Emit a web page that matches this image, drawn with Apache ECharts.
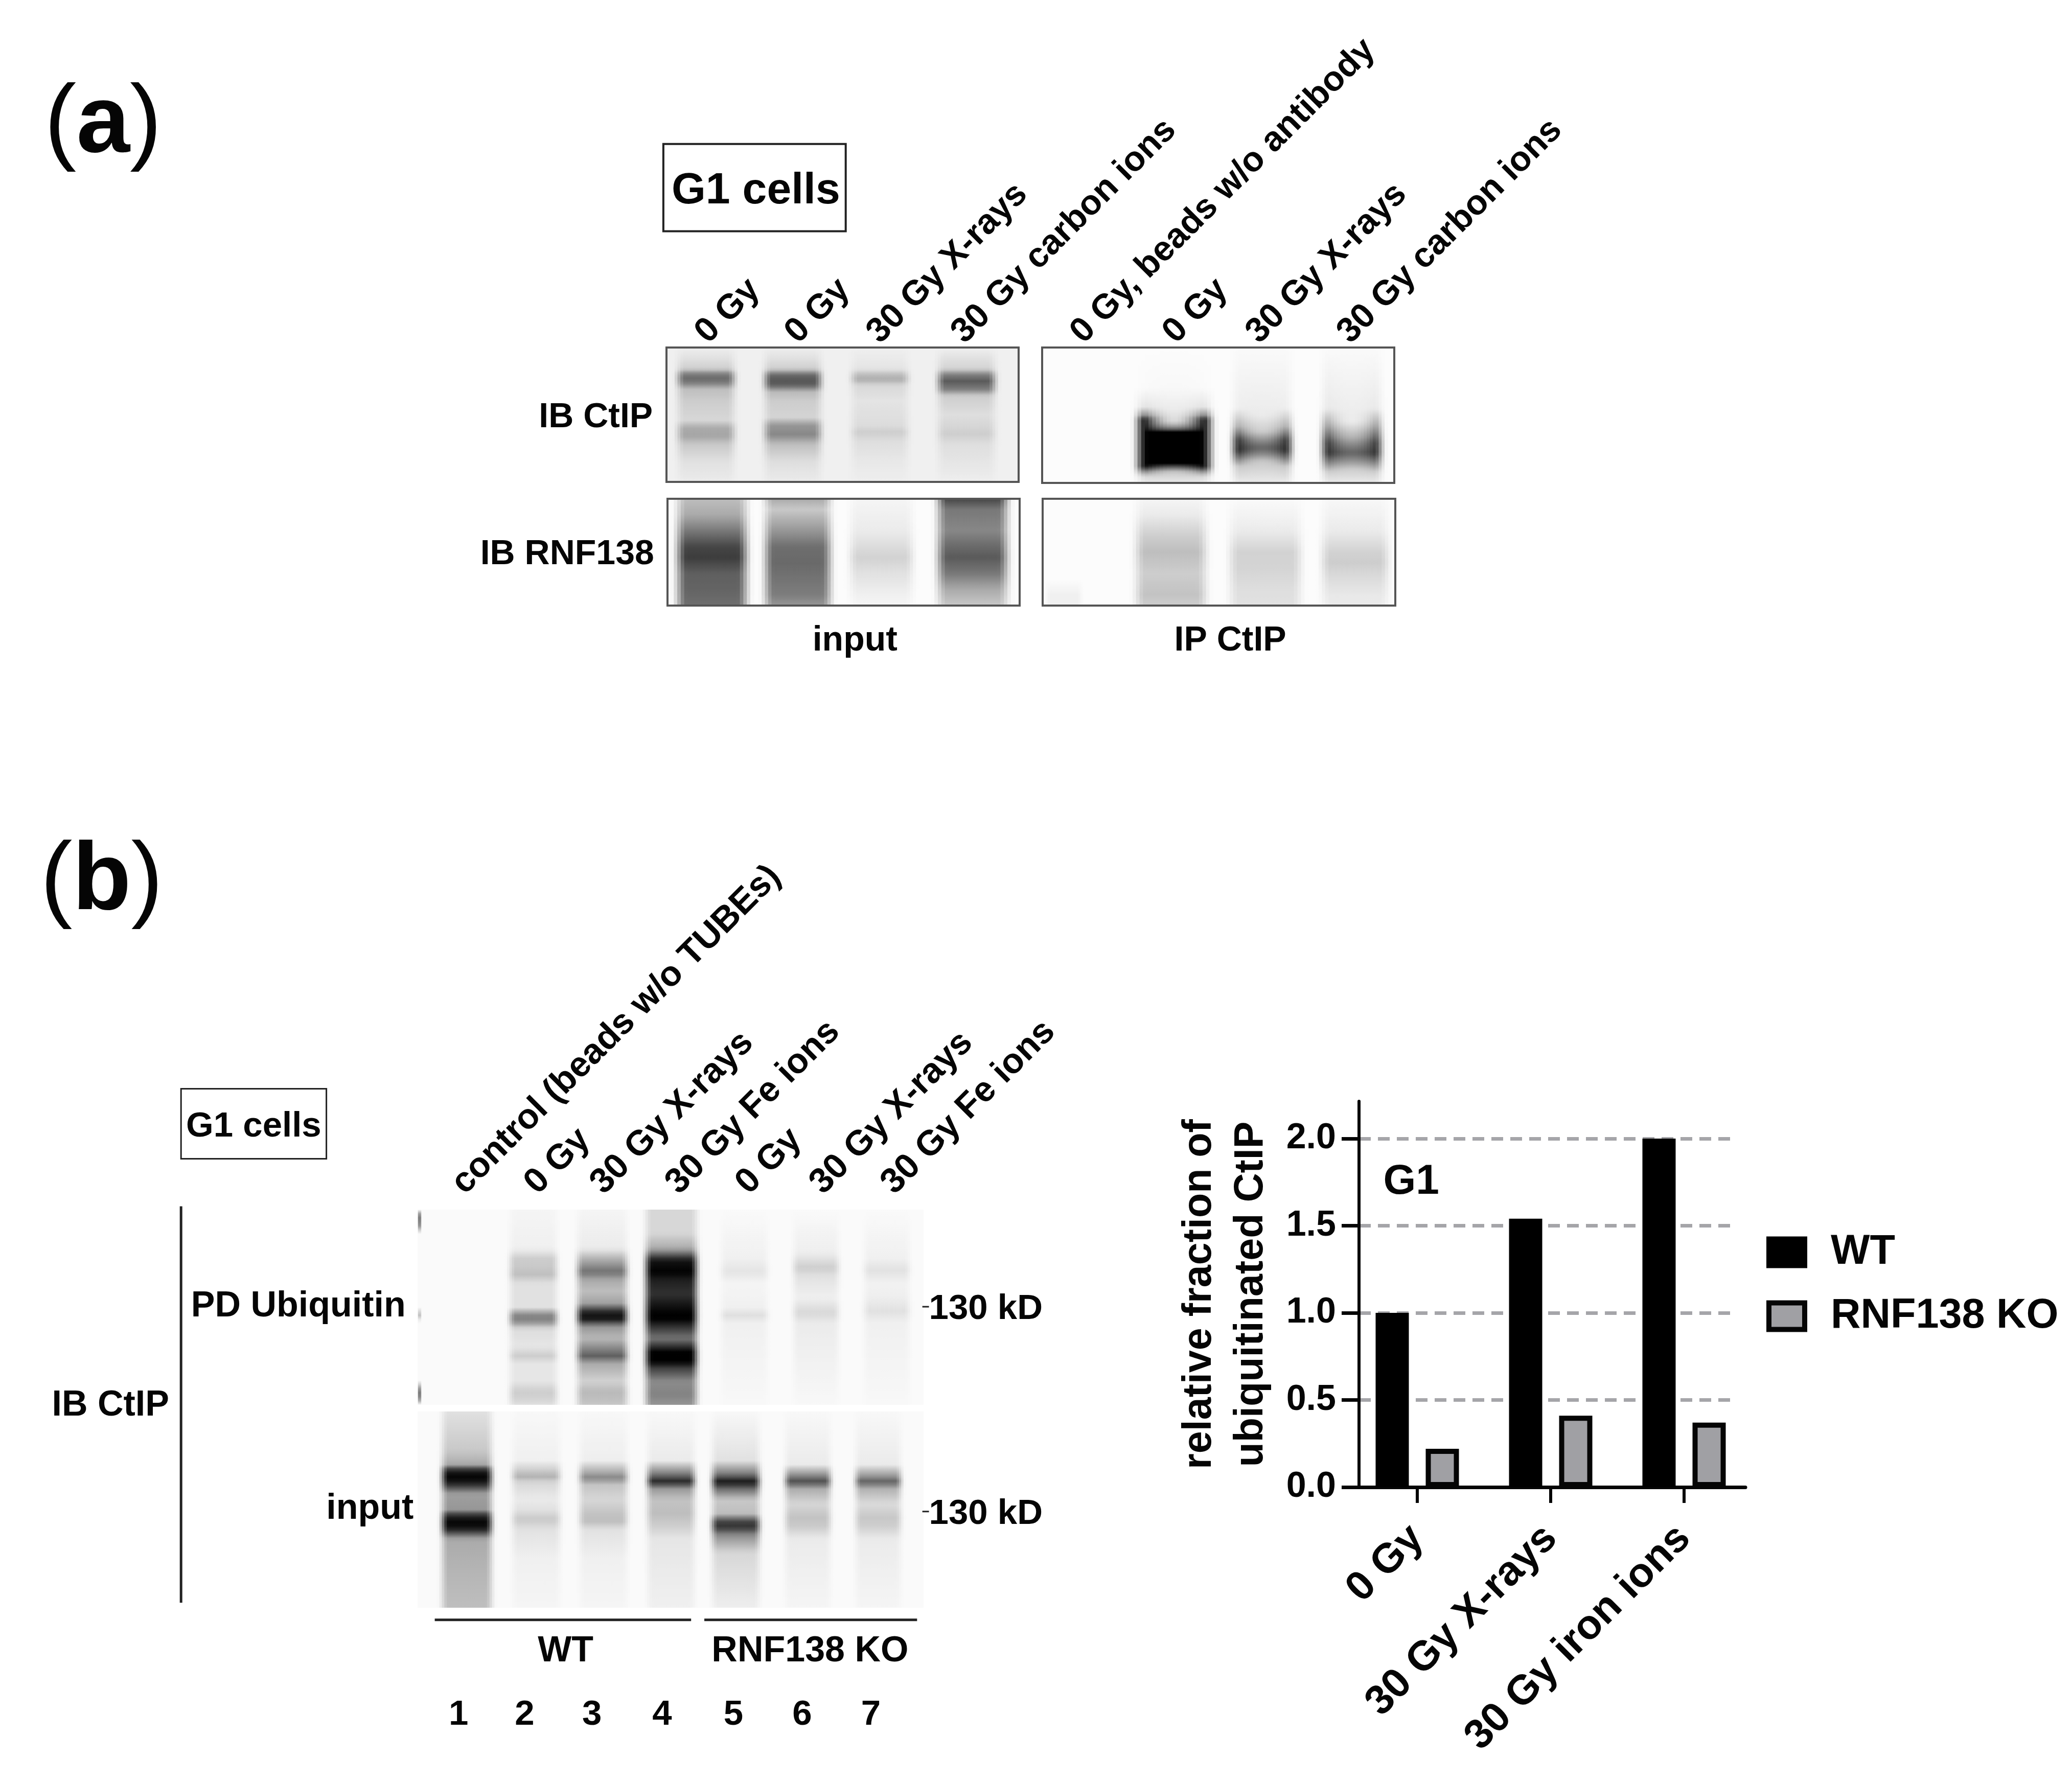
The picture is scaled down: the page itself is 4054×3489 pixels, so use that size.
<!DOCTYPE html>
<html><head><meta charset="utf-8">
<script src="https://cdn.jsdelivr.net/npm/echarts@6/dist/echarts.min.js"></script>
<style>html,body{margin:0;padding:0;background:#fff}#c{width:4054px;height:3489px}</style></head>
<body><div id="c"></div>
<script>
// ---------- bar chart data ----------
const barCategories = ['0 Gy', '30 Gy X-rays', '30 Gy iron ions'];
const wtValues = [1.0, 1.54, 2.0];
const koValues = [0.22, 0.41, 0.37];
const seriesNames = ['WT', 'RNF138 KO'];
const yTickValues = [0, 0.5, 1, 1.5, 2];
const yAxisMax = 2.214;

// ---------- blot lane data: [x0, x1, centre profile, edge profile] ; profile = [position, gray level] ----------
const laneInputCtip = [
 [.015,.21,[[0,238],[.08,225],[.16,205],[.19,140],[.22,105],[.26,120],[.31,190],[.4,205],[.54,215],[.6,170],[.66,165],[.72,200],[.85,225],[1,235]]],
 [.262,.456,[[0,238],[.08,225],[.16,205],[.2,110],[.24,85],[.28,95],[.33,185],[.4,205],[.52,212],[.58,150],[.65,135],[.72,190],[.85,222],[1,235]]],
 [.509,.703,[[0,240],[.16,228],[.2,190],[.24,172],[.28,215],[.4,228],[.58,220],[.63,205],[.7,222],[.85,232],[1,238]]],
 [.754,.95,[[0,240],[.16,210],[.2,130],[.25,90],[.31,125],[.36,205],[.5,222],[.6,212],[.64,205],[.72,222],[1,238]]]
];
const laneIpCtip = [
 [.25,.5,[[0,252],[.3,248],[.46,235],[.55,215],[.6,120],[.62,0],[.86,0],[.88,90],[.92,200],[1,235]],[[0,252],[.3,250],[.44,225],[.5,120],[.53,0],[.88,0],[.91,110],[.95,215],[1,235]]],
 [.524,.726,[[0,250],[.5,235],[.62,205],[.7,130],[.74,100],[.78,130],[.84,200],[1,235]],[[0,250],[.45,238],[.58,170],[.68,45],[.76,30],[.82,110],[.88,200],[1,235]]],
 [.778,.981,[[0,250],[.55,235],[.66,180],[.74,120],[.78,100],[.83,140],[.9,205],[1,235]],[[0,250],[.45,232],[.58,150],[.7,50],[.78,40],[.84,110],[.92,205],[1,235]]]
];
const laneInputRnf = [
 [.008,.245,[[0,190],[.15,170],[.3,120],[.45,70],[.55,60],[.7,95],[.85,100],[1,110]]],
 [.258,.482,[[0,170],[.1,200],[.3,150],[.45,110],[.6,105],[.75,115],[.9,125],[1,150]]],
 [.5,.715,[[0,245],[.3,235],[.45,220],[.55,210],[.7,225],[.9,240],[1,245]]],
 [.748,.985,[[0,70],[.1,120],[.3,135],[.45,105],[.55,90],[.7,120],[.85,170],[1,200]]]
];
const laneIpRnf = [
 [0,.12,[[0,252],[.75,252],[.9,240],[1,240]]],
 [.245,.483,[[0,245],[.15,235],[.35,205],[.5,190],[.7,205],[.9,195],[1,205]]],
 [.51,.753,[[0,250],[.3,235],[.5,210],[.65,212],[.85,222],[1,225]]],
 [.773,.999,[[0,248],[.3,235],[.5,210],[.6,205],[.75,220],[.9,232],[1,235]]]
];
const lanePdUb = [
 [0,.008,[[0,250],[.03,120],[.08,140],[.12,250],[.5,250],[.54,190],[.57,250],[.88,250],[.93,120],[.97,140],[1,250]]],
 [.172,.286,[[0,245],[.2,240],[.25,205],[.3,200],[.33,190],[.38,225],[.5,225],[.54,135],[.57,130],[.61,220],[.7,230],[.75,205],[.79,230],[.88,230],[.93,205],[.97,210],[1,225]]],
 [.305,.425,[[0,245],[.2,235],[.25,180],[.32,110],[.36,170],[.42,190],[.48,160],[.53,20],[.56,20],[.6,150],[.66,185],[.75,95],[.79,170],[.88,210],[.93,185],[.97,190],[1,200]]],
 [.44,.563,[[0,215],[.12,215],[.2,170],[.26,20],[.32,0],[.36,30],[.43,50],[.49,20],[.53,0],[.56,0],[.6,50],[.66,120],[.7,50],[.73,0],[.78,0],[.81,60],[.88,140],[.95,130],[1,150]]],
 [.59,.702,[[0,250],[.25,240],[.32,228],[.38,245],[.5,240],[.54,222],[.58,240],[1,248]]],
 [.733,.842,[[0,250],[.22,238],[.3,205],[.34,225],[.45,240],[.53,215],[.58,235],[1,248]]],
 [.873,.982,[[0,250],[.25,240],[.31,225],[.38,242],[.45,238],[.52,225],[.58,240],[1,248]]]
];
const laneInputB = [
 [.038,.157,[[0,225],[.2,200],[.27,170],[.3,30],[.34,0],[.37,40],[.42,160],[.5,150],[.53,40],[.57,0],[.6,30],[.65,170],[.8,180],[1,190]]],
 [.177,.292,[[0,248],[.25,240],[.3,205],[.33,175],[.36,215],[.45,235],[.5,225],[.55,200],[.6,225],[.75,240],[1,245]]],
 [.31,.425,[[0,248],[.25,238],[.31,170],[.34,130],[.37,195],[.45,215],[.52,195],[.56,190],[.6,225],[.75,240],[1,245]]],
 [.444,.558,[[0,248],[.25,235],[.32,120],[.36,30],[.39,150],[.45,195],[.52,190],[.58,205],[.65,230],[1,240]]],
 [.572,.686,[[0,248],[.25,225],[.32,120],[.36,15],[.39,100],[.45,200],[.52,190],[.56,70],[.59,50],[.63,140],[.72,215],[1,238]]],
 [.717,.826,[[0,248],[.27,235],[.32,150],[.36,70],[.39,170],[.47,215],[.54,195],[.58,200],[.65,235],[1,245]]],
 [.856,.965,[[0,248],[.27,235],[.33,150],[.36,90],[.39,175],[.47,220],[.54,200],[.58,205],[.65,235],[1,245]]]
];

// ---------- text ----------
const labelsA = ['0 Gy','0 Gy','30 Gy X-rays','30 Gy carbon ions','0 Gy, beads w/o antibody','0 Gy','30 Gy X-rays','30 Gy carbon ions'];
const labelsB = ['control (beads w/o TUBEs)','0 Gy','30 Gy X-rays','30 Gy Fe ions','0 Gy','30 Gy X-rays','30 Gy Fe ions'];
const laneNumbers = ['1','2','3','4','5','6','7'];

// ---------- layout (pixels) ----------
const S = 4054 / 1568;
const panels = [
 {lanes: laneInputCtip, x: 1304, y: 680, w: 689, h: 263, bg: 240, frame: true},
 {lanes: laneIpCtip,    x: 2039, y: 680, w: 689, h: 265, bg: 252, frame: true},
 {lanes: laneInputRnf,  x: 1306, y: 976, w: 689, h: 209, bg: 252, frame: true},
 {lanes: laneIpRnf,     x: 2040, y: 976, w: 690, h: 209, bg: 252, frame: true},
 {lanes: lanePdUb,      x: 817,  y: 2367, w: 990, h: 382, bg: 250},
 {lanes: laneInputB,    x: 817,  y: 2762, w: 990, h: 384, bg: 250}
];
const labelAnchorsA = [[540,265],[608,265],[670,265],[734,265],[824,265],[894,265],[957,265],[1026,265]];
const labelAnchorsB = [[356,909],[411,909],[461,909],[518,909],[571,909],[627,909],[681,909]];
const numberXs = [347,397,448,501,555,607,659];
const font = '"Liberation Sans", Arial, sans-serif';
const ink = '#050505';

const SLICES = 24, SAMPLES = 48;
function level(profile, p) {
  for (let i = 1; i < profile.length; i++) {
    if (p <= profile[i][0]) {
      const a = profile[i-1], b = profile[i];
      return a[1] + (b[1]-a[1]) * (p-a[0]) / ((b[0]-a[0]) || 1);
    }
  }
  return profile[profile.length-1][1];
}
function laneRender(panel) {
  return function (params, api) {
    const lane = panel.lanes[params.dataIndex];
    const centre = lane[2], edge = lane[3] || lane[2];
    const top = api.coord([0, 0])[1], bottom = api.coord([0, 1])[1];
    const children = [];
    for (let s = 0; s < SLICES; s++) {
      const u = (s + .5) / SLICES, t = Math.abs(2*u - 1);
      const x0 = api.coord([lane[0] + (lane[1]-lane[0]) * s / SLICES, 0])[0];
      const x1 = api.coord([lane[0] + (lane[1]-lane[0]) * (s+1) / SLICES, 0])[0];
      const w = Math.min(1, (t/.72) * (t/.72));
      let fade = t > .6 ? Math.min(1, (t-.6)/.4) : 0;
      fade = fade * fade * (3 - 2*fade);
      const stops = [];
      for (let k = 0; k <= SAMPLES; k++) {
        const p = k / SAMPLES;
        let g = level(centre, p) * (1-w) + level(edge, p) * w;
        g = g * (1-fade) + panel.bg * fade;
        g = Math.round(g);
        stops.push({offset: p, color: `rgb(${g},${g},${g})`});
      }
      children.push({type: 'rect', shape: {x: x0, y: top, width: x1-x0+1, height: bottom-top},
        style: {fill: new echarts.graphic.LinearGradient(0,0,0,1,stops)}});
    }
    return {type: 'group', children};
  };
}

const grids = [], xAxes = [], yAxes = [], series = [];
panels.forEach((p, i) => {
  const g = p.bg;
  grids.push({left: p.x, top: p.y, width: p.w, height: p.h, show: true, borderWidth: 0, backgroundColor: `rgb(${g},${g},${g})`});
  xAxes.push({type: 'value', gridIndex: i, min: 0, max: 1, show: false});
  yAxes.push({type: 'value', gridIndex: i, min: 0, max: 1, inverse: true, show: false});
  series.push({type: 'custom', xAxisIndex: i, yAxisIndex: i, silent: true, clip: true, animation: false,
    renderItem: laneRender(p), data: p.lanes.map(l => [l[0], 0])});
});

// bar grid (category spacing from the ticks), axis grid, dash grid
const bi = panels.length;
const plotTop = 2155, plotBottomPx = 3489 - 2910;
grids.push({left: 2642.5, width: 783, top: plotTop, bottom: plotBottomPx});
xAxes.push({type: 'category', gridIndex: bi, data: barCategories,
  axisLine: {show: false},
  axisTick: {show: true, alignWithLabel: true, length: 31, lineStyle: {color: ink, width: 6}},
  axisLabel: {rotate: 45, margin: 88, interval: 0, color: ink, fontFamily: font, fontWeight: 'bold', fontSize: 81}});
yAxes.push({type: 'value', gridIndex: bi, min: 0, max: yAxisMax, show: false});
grids.push({left: 2659, width: 756, top: plotTop, bottom: plotBottomPx});
xAxes.push({type: 'value', gridIndex: bi+1, min: 0, max: 1,
  axisLine: {show: true, onZero: false, lineStyle: {color: ink, width: 7}}, axisTick: {show: false}, axisLabel: {show: false}, splitLine: {show: false}});
yAxes.push({type: 'value', gridIndex: bi+1, min: 0, max: yAxisMax, interval: .5,
  axisLine: {show: true, onZero: false, lineStyle: {color: ink, width: 6}},
  axisTick: {show: true, length: 34, customValues: yTickValues, lineStyle: {color: ink, width: 7}},
  axisLabel: {margin: 45, customValues: yTickValues, formatter: v => v.toFixed(1), color: ink, fontFamily: font, fontWeight: 'bold', fontSize: 70},
  splitLine: {show: false},
  name: 'relative fraction of\nubiquitinated CtIP', nameLocation: 'middle', nameRotate: 90, nameGap: 131,
  nameTextStyle: {color: ink, fontFamily: font, fontWeight: 'bold', fontSize: 79, lineHeight: 101, verticalAlign: 'bottom', padding: [0,0,14,0]}});
grids.push({left: 2659, width: 735, top: plotTop, bottom: plotBottomPx});
xAxes.push({type: 'value', gridIndex: bi+2, min: 0, max: 1, axisLine: {show: false}, axisTick: {show: false}, axisLabel: {show: false}, splitLine: {show: false}});
yAxes.push({type: 'value', gridIndex: bi+2, min: 0, max: yAxisMax, interval: .5,
  axisLine: {show: false}, axisTick: {show: false, customValues: yTickValues}, axisLabel: {show: false},
  splitLine: {show: true, lineStyle: {color: '#a5a5a9', width: 7, type: [23, 14]}}});

const barBase = {type: 'bar', xAxisIndex: bi, yAxisIndex: bi, barGap: '50.8%', barWidth: 65, animation: false, z: 5};
series.push({...barBase, name: seriesNames[0], data: wtValues, itemStyle: {color: '#000'}});
series.push({...barBase, name: seriesNames[1], data: koValues, itemStyle: {color: '#a0a0a4', borderColor: '#050505', borderWidth: 10}});

// text and frames
const gfx = [];
function txt(text, x, y, size, opt) {
  const va = (opt && opt.va) || 'middle';
  gfx.push({type: 'text', x, y: va === 'middle' ? y + 5 : y, z: 50, rotation: (opt && opt.rot) || 0, silent: true,
    style: {text, fill: ink, font: `${(opt && opt.weight) || 'bold'} ${size}px ${font}`,
      align: (opt && opt.align) || 'center', verticalAlign: va}});
}
function panelLetter(letter, x, y) {
  gfx.push({type: 'text', x, y, z: 50, silent: true, style: {
    text: `{p|(}{l|${letter}}{p|)}`, align: 'center', verticalAlign: 'middle', fill: ink,
    rich: {p: {font: `normal 188px ${font}`, fill: ink}, l: {font: `bold 188px ${font}`, fill: ink}}}});
}
function box(x, y, w, h, color, lw) {
  gfx.push({type: 'rect', z: 40, silent: true, shape: {x, y, width: w, height: h}, style: {fill: 'none', stroke: color, lineWidth: lw}});
}
function rule(x1, y1, x2, y2, lw) {
  gfx.push({type: 'line', z: 40, silent: true, shape: {x1, y1, x2, y2}, style: {stroke: '#222', lineWidth: lw}});
}
panels.filter(p => p.frame).forEach(p => box(p.x, p.y, p.w, p.h, '#555', 4));
panelLetter('a', 78*S, 95*S);
panelLetter('b', 77*S, 668*S);
box(502*S, 109*S, 138*S, 66*S, '#222', 4);
txt('G1 cells', 572*S, 143*S, 86);
box(137*S, 824*S, 110*S, 53*S, '#222', 3);
txt('G1 cells', 192*S, 851*S, 69);
labelsA.forEach((t, i) => txt(t, labelAnchorsA[i][0]*S, labelAnchorsA[i][1]*S, 68, {rot: Math.PI/4, align: 'left', va: 'bottom'}));
labelsB.forEach((t, i) => txt(t, labelAnchorsB[i][0]*S, labelAnchorsB[i][1]*S, 69, {rot: Math.PI/4, align: 'left', va: 'bottom'}));
txt('IB CtIP', 494*S, 314*S, 68, {align: 'right'});
txt('IB RNF138', 495*S, 418*S, 68, {align: 'right'});
txt('input', 647*S, 483*S, 68);
txt('IP CtIP', 931*S, 483*S, 68);
txt('IB CtIP', 128*S, 1062*S, 70, {align: 'right'});
txt('PD Ubiquitin', 307*S, 987*S, 70, {align: 'right'});
txt('input', 313*S, 1140*S, 70, {align: 'right'});
txt('130 kD', 703*S, 989*S, 69, {align: 'left'});
txt('130 kD', 703*S, 1144*S, 69, {align: 'left'});
rule(698*S, 989*S, 703*S, 989*S, 3);
rule(698*S, 1144*S, 703*S, 1144*S, 3);
rule(137*S, 913*S, 137*S, 1213*S, 5);
rule(329*S, 1226*S, 523*S, 1226*S, 5);
rule(533*S, 1226*S, 694*S, 1226*S, 5);
txt('WT', 428*S, 1248*S, 70);
txt('RNF138 KO', 613*S, 1248*S, 70);
laneNumbers.forEach((t, i) => txt(t, numberXs[i]*S, 1296*S, 69));
txt('G1', 1068*S, 893*S, 82);

const chart = echarts.init(document.getElementById('c'), null, {renderer: 'canvas'});
chart.setOption({
  animation: false, backgroundColor: '#fff',
  grid: grids, xAxis: xAxes, yAxis: yAxes, series,
  legend: {show: true, orient: 'vertical', left: 3451, top: 2405, itemWidth: 70, itemHeight: 52, itemGap: 44, icon: 'rect',
    data: [{name: seriesNames[0], itemStyle: {color: '#000', borderColor: '#000', borderWidth: 10}},
           {name: seriesNames[1], itemStyle: {color: '#a0a0a4', borderColor: '#050505', borderWidth: 10}}],
    selectedMode: false, textStyle: {color: ink, fontFamily: font, fontWeight: 'bold', fontSize: 81, padding: [0,0,0,46]}},
  graphic: {elements: gfx}
});
</script></body></html>
